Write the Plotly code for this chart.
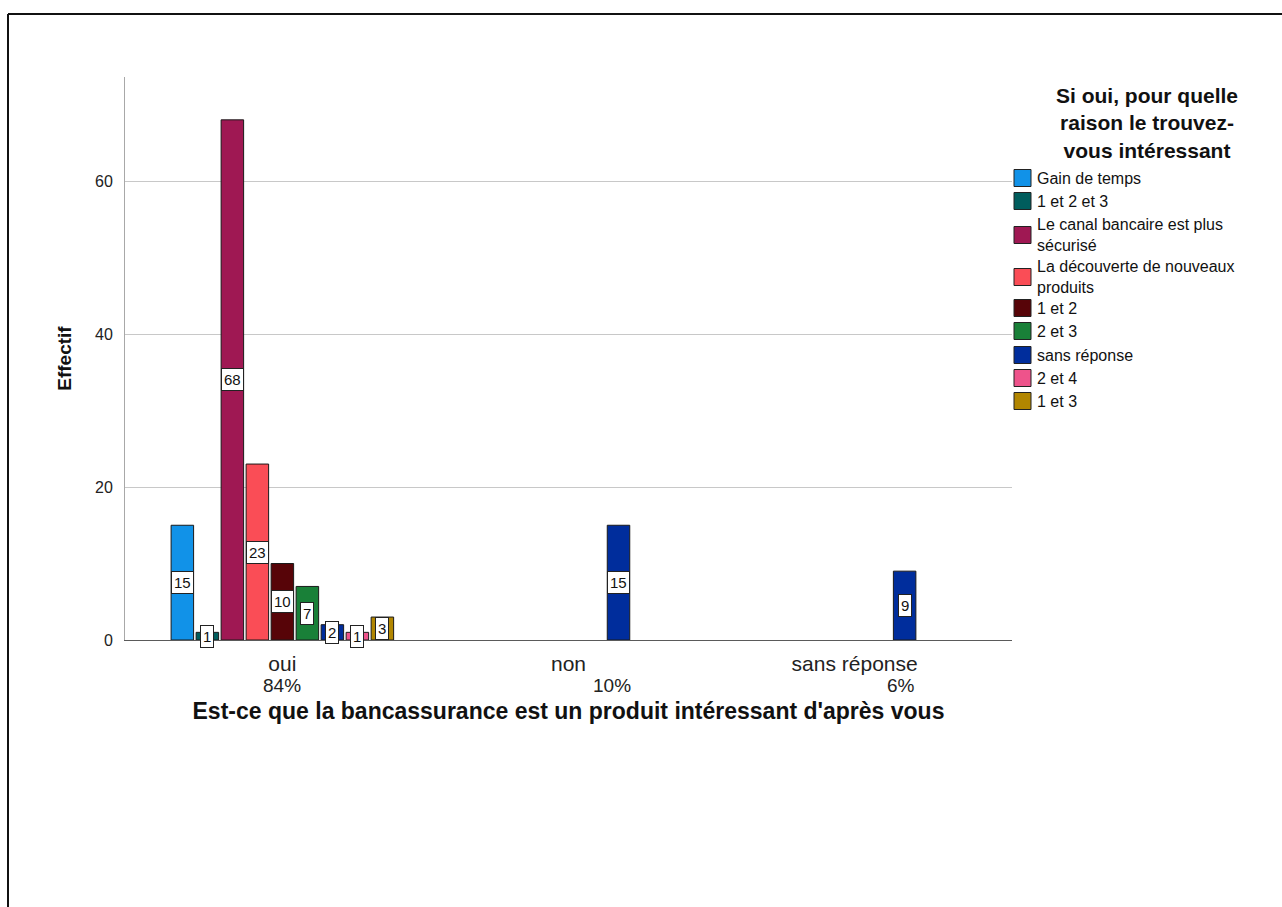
import plotly.graph_objects as go

# ---- data -------------------------------------------------------------
categories = ["oui", "non", "sans réponse"]

reasons = [
    "Gain de temps",
    "1 et 2 et 3",
    "Le canal bancaire est plus sécurisé",
    "La découverte de nouveaux produits",
    "1 et 2",
    "2 et 3",
    "sans réponse",
    "2 et 4",
    "1 et 3",
]

# legend text, wrapped the way it is printed beside the chart
reason_labels = [
    "Gain de temps",
    "1 et 2 et 3",
    "Le canal bancaire est plus<br>sécurisé",
    "La découverte de nouveaux<br>produits",
    "1 et 2",
    "2 et 3",
    "sans réponse",
    "2 et 4",
    "1 et 3",
]

legend_title = "Si oui, pour quelle<br>raison le trouvez-<br>vous intéressant"

# counts per reason, one list per answer category
counts_oui = [15, 1, 68, 23, 10, 7, 2, 1, 3]
counts_non = [0, 0, 0, 0, 0, 0, 15, 0, 0]
counts_sans_reponse = [0, 0, 0, 0, 0, 0, 9, 0, 0]

colors = ["#1192e8", "#005d5d", "#9f1853", "#fa4d56", "#570408",
          "#198038", "#002d9c", "#ee538b", "#b28600"]

y_ticks = [0, 20, 40, 60]

# ---- geometry ---------------------------------------------------------
W, H = 1282, 907
PL, PR, PT, PB = 125, 1012, 77, 640
X_RANGE = [-0.55, 2.55]
Y_RANGE = [0, 73.6]
BARGAP = 0.2135
N = len(reasons)
SLOT = (1 - BARGAP) / N          # width of one bar slot, in category units

FONT = "Liberation Sans, Arial, sans-serif"


def px_x(px):
    return (px - PL) / (PR - PL)


def px_y(py):
    return (PB - py) / (PB - PT)


per_category = [counts_oui, counts_non, counts_sans_reponse]

fig = go.Figure()
for i, name in enumerate(reasons):
    vals = [c[i] if c[i] else None for c in per_category]
    fig.add_trace(go.Bar(
        x=categories, y=vals, name=name,
        marker=dict(color=colors[i], line=dict(color="#1a1a1a", width=1)),
        showlegend=False, hoverinfo="x+y+name",
    ))

annotations = []
shapes = []

# value boxes in the middle of every bar
for ci, cat_counts in enumerate(per_category):
    for i, v in enumerate(cat_counts):
        if not v:
            continue
        annotations.append(dict(
            x=ci + (i - (N - 1) / 2) * SLOT, y=v / 2, xref="x", yref="y",
            text=str(v), showarrow=False,
            font=dict(family=FONT, size=15, color="#111"),
            bgcolor="white", bordercolor="#222", borderwidth=1, borderpad=2,
            xanchor="center", yanchor="middle",
        ))

# share of each answer, printed under the category name
total = sum(sum(c) for c in per_category)
pct_shift = [0, 43, 46]
for ci, cat_counts in enumerate(per_category):
    pct = round(100 * sum(cat_counts) / total)
    annotations.append(dict(
        x=ci, y=px_y(685), xref="x", yref="paper", xshift=pct_shift[ci],
        text=f"{pct}%", showarrow=False,
        font=dict(family=FONT, size=19, color="#222"),
        xanchor="center", yanchor="middle",
    ))

# legend block
annotations.append(dict(
    x=px_x(1147), y=px_y(123), xref="paper", yref="paper",
    text=f"<b>{legend_title}</b>", showarrow=False, align="center",
    font=dict(family=FONT, size=21, color="#111"),
    xanchor="center", yanchor="middle",
))

entry_y = [178, 201, 235, 277, 308, 331, 355, 378, 401]
for i, label in enumerate(reason_labels):
    cy = entry_y[i]
    annotations.append(dict(
        x=px_x(1035), y=px_y(cy), xref="paper", yref="paper",
        text=label, showarrow=False, align="left",
        font=dict(family=FONT, size=16, color="#111"),
        xanchor="left", yanchor="middle",
    ))
    shapes.append(dict(
        type="rect", xref="paper", yref="paper",
        x0=px_x(1014), x1=px_x(1031), y0=px_y(cy + 8.5), y1=px_y(cy - 8.5),
        fillcolor=colors[i], line=dict(color="#222", width=1),
    ))

# frame around the chart
shapes.append(dict(type="line", xref="paper", yref="paper",
                   x0=px_x(8), x1=px_x(W + 5), y0=px_y(14), y1=px_y(14),
                   line=dict(color="#111", width=2)))
shapes.append(dict(type="line", xref="paper", yref="paper",
                   x0=px_x(8), x1=px_x(8), y0=px_y(14), y1=px_y(H + 5),
                   line=dict(color="#111", width=2)))

fig.update_layout(
    width=W, height=H,
    margin=dict(l=PL, r=W - PR, t=PT, b=H - PB, autoexpand=False),
    paper_bgcolor="white", plot_bgcolor="white",
    barmode="group", bargap=BARGAP, bargroupgap=0.1,
    font=dict(family=FONT, color="#222"),
    showlegend=False,
    annotations=annotations,
    shapes=shapes,
)

fig.update_xaxes(
    type="category", range=X_RANGE,
    showline=True, linecolor="#5a5a5a", linewidth=1,
    showgrid=False, ticks="", ticklabelstandoff=5,
    tickfont=dict(family=FONT, size=21, color="#222"),
    title=dict(text="<b>Est-ce que la bancassurance est un produit intéressant d'après vous</b>",
               font=dict(family=FONT, size=23, color="#111"), standoff=28),
)

fig.update_yaxes(
    range=Y_RANGE, tickvals=y_ticks,
    showline=True, linecolor="#a8a8a8", linewidth=1,
    showgrid=True, gridcolor="#c8c8c8", gridwidth=1, zeroline=False,
    ticks="", ticklabelstandoff=8,
    tickfont=dict(family=FONT, size=16, color="#222"),
    title=dict(text="<b>Effectif</b>",
               font=dict(family="Liberation Sans Narrow, Liberation Sans, Arial", size=19, color="#111"),
               standoff=18),
)

fig.write_html("out.html")
